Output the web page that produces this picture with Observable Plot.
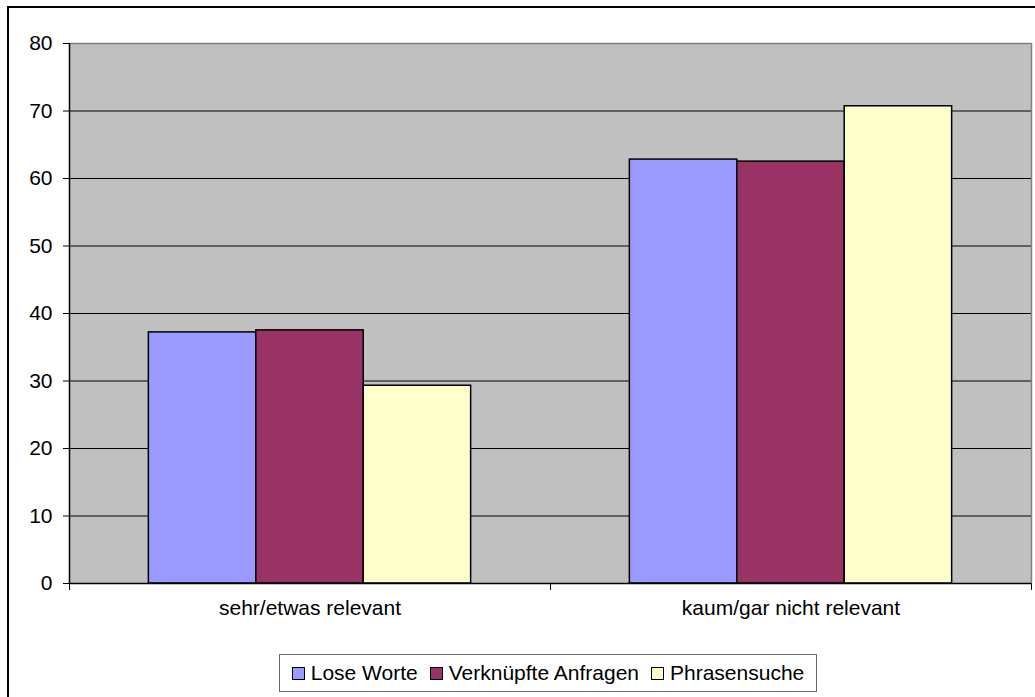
<!DOCTYPE html>
<html><head><meta charset="utf-8">
<script src="https://cdn.jsdelivr.net/npm/d3@7"></script>
<script src="https://cdn.jsdelivr.net/npm/@observablehq/plot@0.6"></script>
<style>
html,body{margin:0;padding:0;background:#fff;overflow:hidden;}
body{width:1035px;height:697px;position:relative;font-family:"Liberation Sans",Arial,sans-serif;}
#border{position:absolute;left:7px;top:6px;width:1200px;height:900px;border:2px solid #000;box-sizing:border-box;pointer-events:none;z-index:10;}
#chart svg{display:block;}
#legendWrap{width:1096px;display:flex;justify-content:center;margin-top:9px;}
#legend{display:flex;align-items:center;border:1px solid #6a6a6a;padding:6px 12px;font-size:21px;line-height:24px;color:#000;background:#fff;}
.item{display:flex;align-items:center;margin-right:12px;}
.item:last-child{margin-right:0;}
.sw{width:11px;height:11px;border:1px solid #000;margin-right:6px;}
</style></head><body>
<div id="chart"></div>
<div id="border"></div>
<script>
// ---- data ----
const categories = ["sehr/etwas relevant", "kaum/gar nicht relevant"];
const seriesNames = ["Lose Worte", "Verknüpfte Anfragen", "Phrasensuche"];
const loseWorte = [37.2, 62.8];
const verknuepfteAnfragen = [37.5, 62.5];
const phrasensuche = [29.3, 70.7];
const yTicks = [0, 10, 20, 30, 40, 50, 60, 70, 80];
const seriesColors = ["#9999ff", "#993366", "#ffffcc"];

const seriesValues = [loseWorte, verknuepfteAnfragen, phrasensuche];
const rows = categories.flatMap((category, i) =>
  seriesNames.map((series, j) => ({category, series, value: seriesValues[j][i], slot: i, pos: j}))
);

// layout: each category occupies one unit on the x scale; bars fill its middle part
const groupPad = 0.165;
const barW = (1 - 2 * groupPad) / seriesNames.length;

const chart = Plot.plot({
  width: 1035,
  height: 645,
  marginLeft: 69,
  marginRight: 4,
  marginTop: 43,
  marginBottom: 62,
  style: {fontFamily: "'Liberation Sans', Arial, sans-serif", fontSize: "21px", color: "#000", background: "transparent"},
  x: {domain: [0, categories.length], ticks: d3.range(categories.length + 1), tickFormat: () => "", tickSize: 7, label: null},
  y: {domain: [0, 80], ticks: yTicks, tickSize: 6, tickPadding: 11, label: null},
  color: {domain: seriesNames, range: seriesColors},
  marks: [
    Plot.frame({fill: "#c0c0c0"}),
    Plot.ruleY(yTicks.filter(t => t > 0 && t < 80), {stroke: "#000", strokeWidth: 1}),
    Plot.ruleY([80], {stroke: "#808080", strokeWidth: 1.5}),
    Plot.ruleX([categories.length], {stroke: "#808080", strokeWidth: 1.5}),
    Plot.rect(rows, {
      x1: d => d.slot + groupPad + d.pos * barW,
      x2: d => d.slot + groupPad + (d.pos + 1) * barW,
      y1: () => 0,
      y2: "value",
      fill: "series",
      stroke: "#000",
      strokeWidth: 1.5
    }),
    Plot.ruleY([0], {stroke: "#000", strokeWidth: 1.5}),
    Plot.ruleX([0], {stroke: "#000", strokeWidth: 1.5}),
    Plot.text(categories, {x: (d, i) => i + 0.5, frameAnchor: "bottom", dy: 31, text: d => d, fontSize: 21, fill: "#000"})
  ]
});
document.getElementById("chart").appendChild(chart);

// legend below the svg
const wrap = document.createElement("div");
wrap.id = "legendWrap";
const legend = document.createElement("div");
legend.id = "legend";
seriesNames.forEach((name, i) => {
  const item = document.createElement("div");
  item.className = "item";
  const sw = document.createElement("div");
  sw.className = "sw";
  sw.style.background = seriesColors[i];
  const label = document.createElement("span");
  label.textContent = name;
  item.appendChild(sw);
  item.appendChild(label);
  legend.appendChild(item);
});
wrap.appendChild(legend);
document.getElementById("chart").appendChild(wrap);
</script>
</body></html>
